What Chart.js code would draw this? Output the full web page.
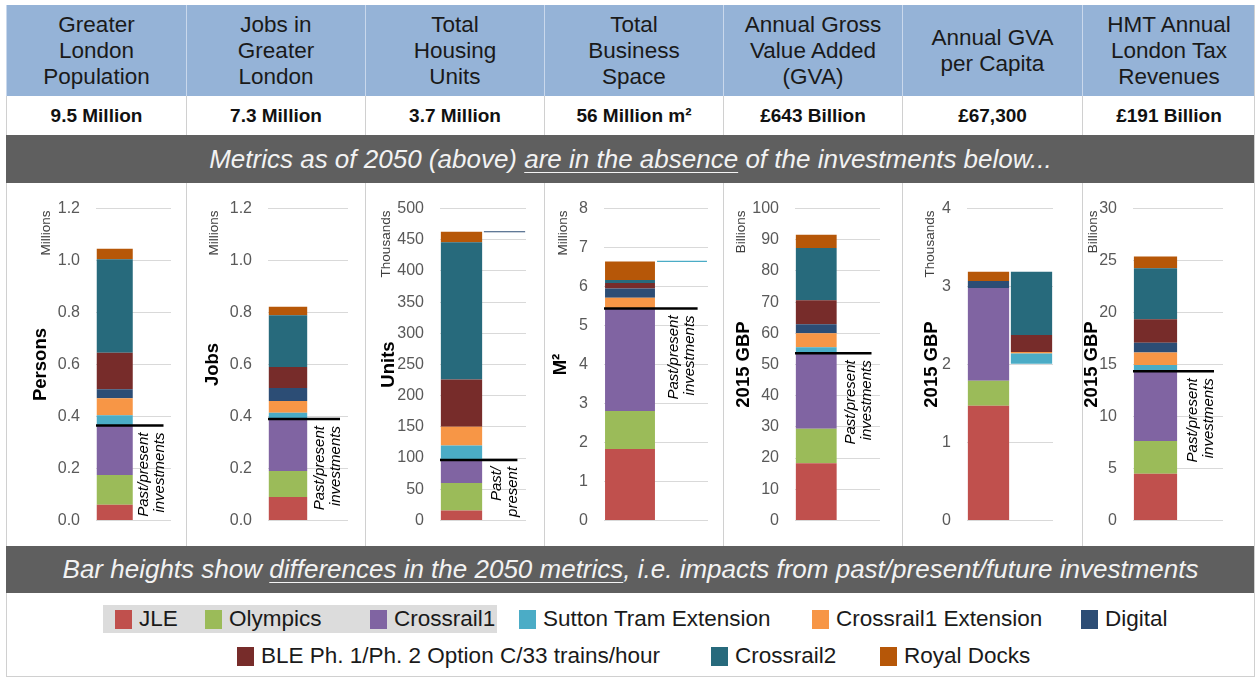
<!DOCTYPE html>
<html lang="en">
<head>
  <meta charset="UTF-8" />
  <title>London 2050 metrics and investment impacts</title>
  <script src="https://cdn.jsdelivr.net/npm/chart.js"></script>
  <style>
    body {
      margin: 0;
      background: #fff;
      font-family: 'Liberation Sans', Arial, sans-serif;
    }

    #sheet {
      position: relative;
      width: 1260px;
      height: 678px;
      overflow: hidden;
    }

    .cell {
      position: absolute;
      box-sizing: border-box;
      display: flex;
      align-items: center;
      justify-content: center;
      text-align: center;
    }

    .head {
      background: #95b3d7;
      color: #1a1a1a;
      font-size: 22.5px;
      line-height: 26px;
      border-left: 1px solid #c9d8ec;
    }

    .value {
      background: #fff;
      color: #111;
      font-weight: bold;
      font-size: 19px;
      border-left: 1px solid #d0d0d0;
    }

    .band {
      background: #5f5f5f;
      color: #f2f2f2;
      font-style: italic;
      font-size: 26px;
      white-space: nowrap;
    }

    .band u {
      text-decoration-thickness: 1px;
      text-underline-offset: 4px;
    }

    .chartcell {
      border-left: 1px solid #d0d0d0;
    }

    .legend {
      position: absolute;
      left: 6px;
      top: 593px;
      width: 1249px;
      height: 84px;
      border: 1px solid #d0d0d0;
      border-top: none;
      box-sizing: border-box;
    }

    .highlight {
      position: absolute;
      left: 96px;
      top: 12px;
      width: 394px;
      height: 28px;
      background: #dcdcdc;
    }

    .item {
      position: absolute;
      font-size: 22.5px;
      color: #1a1a1a;
      white-space: nowrap;
      line-height: 24px;
    }

    .item span {
      display: inline-block;
      width: 17px;
      height: 19px;
      vertical-align: -3px;
      margin-right: 7px;
    }
  </style>
</head>
<body>
  <div id="sheet"></div>

  <script>
    // ---- data ----
    const metrics = ['Greater<br>London<br>Population', 'Jobs in<br>Greater<br>London', 'Total<br>Housing<br>Units',
      'Total<br>Business<br>Space', 'Annual Gross<br>Value Added<br>(GVA)', 'Annual GVA<br>per Capita', 'HMT Annual<br>London Tax<br>Revenues'];
    const metricValues = ['9.5 Million', '7.3 Million', '3.7 Million', '56 Million m²', '£643 Billion', '£67,300', '£191 Billion'];
    const units = ['Millions', 'Millions', 'Thousands', 'Millions', 'Billions', 'Thousands', 'Billions'];
    const axisTitles = ['Persons', 'Jobs', 'Units', 'M²', '2015 GBP', '2015 GBP', '2015 GBP'];
    const axisMax = [1.2, 1.2, 500, 8, 100, 4, 30];
    const axisStep = [0.2, 0.2, 50, 1, 10, 1, 5];
    const tickDecimals = [1, 1, 0, 0, 0, 0, 0];

    const seriesNames = ['JLE', 'Olympics', 'Crossrail1', 'Sutton Tram Extension', 'Crossrail1 Extension', 'Digital',
      'BLE Ph. 1/Ph. 2 Option C/33 trains/hour', 'Crossrail2', 'Royal Docks'];

    // main bar, one value per metric
    const jle = [0.06, 0.09, 16, 1.83, 18.3, 1.47, 4.5];
    const olympics = [0.115, 0.10, 44, 0.98, 11.1, 0.32, 3.15];
    const crossrail1 = [0.19, 0.20, 37, 2.63, 24.2, 1.19, 6.7];
    const sutton = [0.04, 0.024, 23, 0, 1.9, 0, 0.6];
    const crossrail1Ext = [0.065, 0.046, 30, 0.27, 4.5, 0, 1.2];
    const digital = [0.035, 0.05, 0, 0.24, 2.9, 0.09, 0.94];
    const ble = [0.14, 0.08, 76, 0.14, 7.7, 0, 2.27];
    const crossrail2 = [0.36, 0.20, 220, 0.08, 16.8, 0, 4.89];
    const royalDocks = [0.04, 0.032, 17, 0.47, 4.2, 0.12, 1.13];

    // second (offset) bar
    const offsetBase = [0, 0, 462, 6.63, 0, 2.01, 0];
    const offsetSutton = [0, 0, 0, 0.03, 0, 0.13, 0];
    const offsetCrossrail1Ext = [0, 0, 0, 0, 0, 0.02, 0];
    const offsetDigital = [0, 0, 1.5, 0, 0, 0, 0];
    const offsetBle = [0, 0, 0, 0, 0, 0.22, 0];
    const offsetCrossrail2 = [0, 0, 0, 0, 0, 0.81, 0];
    const none = [0, 0, 0, 0, 0, 0, 0];

    const pastPresentText = [['Past/present', 'investments'], ['Past/present', 'investments'], ['Past/', 'present'],
      ['Past/present', 'investments'], ['Past/present', 'investments'], null, ['Past/present', 'investments']];

    const mainSeries = [jle, olympics, crossrail1, sutton, crossrail1Ext, digital, ble, crossrail2, royalDocks];
    const offsetSeries = [none, none, none, offsetSutton, offsetCrossrail1Ext, offsetDigital, offsetBle, offsetCrossrail2, none];

    // ---- styling / layout ----
    const seriesColors = ['#c0504d', '#9bbb59', '#8064a2', '#4bacc6', '#f79646', '#2c4d75', '#772c2a', '#276a7c', '#b65708'];
    const colEdges = [6, 186, 365, 544, 723, 902, 1082, 1255];
    const axisWidth = [89, 81, 74, 59, 71, 64, 50];
    const plotWidth = [75, 80, 86, 104, 85, 86, 90];
    const titleOffset = [34, 26, 23, 16, 20, 29, 9];
    const unitOffset = [39, 27, 20, 18, 17, 27, 10];

    const sheet = document.getElementById('sheet');

    function addCell(cls, left, top, width, height, html) {
      const d = document.createElement('div');
      d.className = 'cell ' + cls;
      Object.assign(d.style, { left: left + 'px', top: top + 'px', width: width + 'px', height: height + 'px' });
      if (html) d.innerHTML = '<span>' + html + '</span>';
      sheet.appendChild(d);
      return d;
    }

    metrics.forEach((m, i) => {
      const x = colEdges[i], w = colEdges[i + 1] - x;
      addCell('head', x, 5, w, 91, m);
      addCell('value', x, 96, w, 39, metricValues[i]);
    });

    addCell('band', 6, 135, 1249, 48,
      'Metrics as of 2050 (above) <u>are in the absence</u> of the investments below...');
    addCell('band', 6, 546, 1249, 47,
      'Bar heights show <u>differences in the 2050 metrics</u>, i.e. impacts from past/present/future investments');

    // right border of the sheet
    const edge = addCell('', 1254, 5, 1, 588, '');
    edge.style.background = '#d0d0d0';

    const sideLabels = {
      id: 'sideLabels',
      afterDraw(chart, args, opts) {
        const { ctx, chartArea, scales } = chart;
        const i = opts.index;
        ctx.save();
        ctx.fillStyle = '#404040';
        ctx.font = '13.5px "Liberation Sans", Arial, sans-serif';
        ctx.translate(unitOffset[i], chartArea.top + 2);
        ctx.rotate(-Math.PI / 2);
        ctx.textAlign = 'right';
        ctx.textBaseline = 'middle';
        ctx.fillText(units[i], 0, 0);
        ctx.restore();

        ctx.save();
        ctx.fillStyle = '#000';
        ctx.font = 'bold 18.5px "Liberation Sans", Arial, sans-serif';
        ctx.translate(titleOffset[i], (chartArea.top + chartArea.bottom) / 2);
        ctx.rotate(-Math.PI / 2);
        ctx.textAlign = 'center';
        ctx.textBaseline = 'middle';
        ctx.fillText(axisTitles[i], 0, 0);
        ctx.restore();

        const label = pastPresentText[i];
        if (!label) return;
        const y = scales.y.getPixelForValue(jle[i] + olympics[i] + crossrail1[i]);
        ctx.save();
        ctx.strokeStyle = '#000';
        ctx.lineWidth = 2.5;
        ctx.beginPath();
        ctx.moveTo(chartArea.left, y);
        ctx.lineTo(chartArea.left + chartArea.width * 0.9, y);
        ctx.stroke();

        const cx = scales.x.getPixelForValue(1);
        ctx.fillStyle = '#000';
        ctx.font = 'italic 15px "Liberation Sans", Arial, sans-serif';
        ctx.textAlign = 'right';
        ctx.textBaseline = 'middle';
        label.forEach((line, k) => {
          ctx.save();
          ctx.translate(cx - 8 + k * 16, y + 7);
          ctx.rotate(-Math.PI / 2);
          ctx.fillText(line, 0, 0);
          ctx.restore();
        });
        ctx.restore();
      }
    };

    metrics.forEach((m, i) => {
      const x = colEdges[i], w = colEdges[i + 1] - x;
      const cell = addCell('chartcell', x, 183, w, 363, '');
      const canvas = document.createElement('canvas');
      canvas.width = w;
      canvas.height = 363;
      canvas.style.position = 'absolute';
      canvas.style.left = '0px';
      canvas.style.top = '0px';
      cell.appendChild(canvas);

      const datasets = [{ label: 'base', data: [0, offsetBase[i]], backgroundColor: 'rgba(0,0,0,0)' }];
      seriesNames.forEach((name, k) => {
        datasets.push({
          label: name,
          data: [mainSeries[k][i], offsetSeries[k][i]],
          backgroundColor: seriesColors[k],
          barPercentage: 0.96,
          categoryPercentage: 1
        });
      });

      new Chart(canvas, {
        type: 'bar',
        data: { labels: ['', ''], datasets: datasets },
        options: {
          responsive: false,
          animation: false,
          devicePixelRatio: 1,
          // y-axis labels add ~7px above and ~6px below this padding
          layout: { padding: { top: 15, bottom: 18, left: 0, right: w - axisWidth[i] - plotWidth[i] } },
          plugins: {
            legend: { display: false },
            tooltip: { enabled: false },
            sideLabels: { index: i }
          },
          scales: {
            x: { display: false, stacked: true },
            y: {
              stacked: true,
              min: 0,
              max: axisMax[i],
              afterFit: s => { s.width = axisWidth[i]; },
              border: { display: false },
              grid: { color: '#d9d9d9', drawTicks: false },
              ticks: {
                stepSize: axisStep[i],
                padding: 16,
                color: '#595959',
                font: { size: 16, family: '"Liberation Sans", Arial, sans-serif' },
                callback: v => Number(v).toFixed(tickDecimals[i])
              }
            }
          }
        },
        plugins: [sideLabels]
      });
    });

    // legend
    const legend = document.createElement('div');
    legend.className = 'legend';
    legend.innerHTML = '<div class="highlight"></div>';
    sheet.appendChild(legend);

    const legendRows = [[0, 1, 2, 3, 4, 5], [6, 7, 8]];
    const legendX = [[108, 198, 363, 512, 805, 1074], [230, 704, 873]];
    const legendY = [14, 51];
    legendRows.forEach((row, r) => {
      row.forEach((k, j) => {
        const it = document.createElement('div');
        it.className = 'item';
        it.style.left = legendX[r][j] + 'px';
        it.style.top = legendY[r] + 'px';
        it.innerHTML = '<span style="background:' + seriesColors[k] + '"></span>' + seriesNames[k];
        legend.appendChild(it);
      });
    });
  </script>
</body>
</html>
